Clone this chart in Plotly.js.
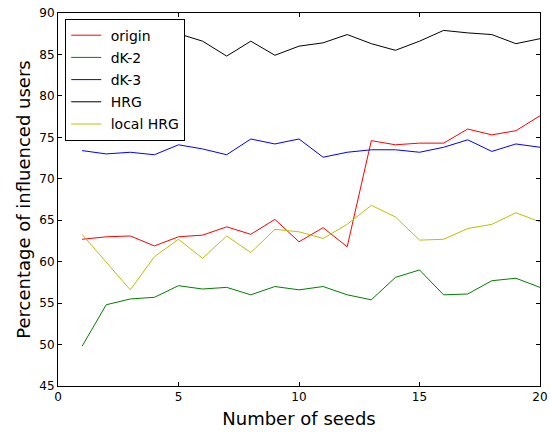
<!DOCTYPE html>
<html><head><meta charset="utf-8">
<script src="https://cdn.plot.ly/plotly-3.0.1.min.js"></script>
<style>body{margin:0;background:#fff}#c{width:550px;height:432px}</style>
</head><body><div id="c"></div>
<script>
const seeds = [1,2,3,4,5,6,7,8,9,10,11,12,13,14,15,16,17,18,19,20];
const origin = [62.7,63.0,63.1,61.9,63.0,63.2,64.2,63.3,65.1,62.4,64.1,61.8,74.6,74.1,74.3,74.3,76.0,75.3,75.8,77.6];
const dk2 = [49.8,54.8,55.5,55.7,57.1,56.7,56.9,56.0,57.0,56.6,57.0,56.0,55.4,58.1,59.0,56.0,56.1,57.7,58.0,56.9];
const dk3 = [73.4,73.0,73.2,72.9,74.1,73.6,72.9,74.8,74.2,74.8,72.6,73.2,73.5,73.5,73.2,73.8,74.7,73.3,74.2,73.8];
const hrg = [87.0,86.5,87.6,88.0,87.5,86.6,84.8,86.6,84.9,86.0,86.4,87.4,86.3,85.5,86.6,87.9,87.6,87.4,86.3,86.9];
const localHrg = [63.3,59.9,56.6,60.6,62.7,60.4,63.1,61.1,63.9,63.6,62.8,64.5,66.8,65.4,62.6,62.7,64.0,64.5,65.9,64.8];
const names = ['origin','dK-2','dK-3','HRG','local HRG'];
const colors = ['#ff0000','#008000','#0000ff','#000000','#bfbf00'];
const series = [origin, dk2, dk3, hrg, localHrg];
const data = series.map((s,i)=>({x:seeds,y:s,type:'scatter',mode:'lines',name:' '+names[i],legendgroup:'g'+i,line:{color:colors[i],width:1}}));
const ax = {showgrid:false,zeroline:false,showline:true,linecolor:'#000',linewidth:1,mirror:'ticks',ticks:'inside',ticklen:4,tickcolor:'#000',tickfont:{size:12,color:'#000'}};
const layout = {
  width:550,height:432,
  margin:{l:58,r:10,t:13,b:46},
  paper_bgcolor:'#fff',plot_bgcolor:'#fff',
  font:{family:'DejaVu Sans',color:'#000'},
  xaxis:Object.assign({},ax,{range:[0,20],tickvals:[0,5,10,15,20],title:{text:'Number of seeds',font:{size:18},standoff:8}}),
  yaxis:Object.assign({},ax,{range:[45,90],tickvals:[45,50,55,60,65,70,75,80,85,90],title:{text:'Percentage of influenced users',font:{size:18},standoff:4}}),
  showlegend:true,
  legend:{x:0.015,y:0.985,xanchor:'left',yanchor:'top',bgcolor:'#fff',bordercolor:'#000',borderwidth:1,font:{size:14},tracegroupgap:1,itemwidth:30}
};
Plotly.newPlot('c',data,layout,{staticPlot:true});
</script></body></html>
